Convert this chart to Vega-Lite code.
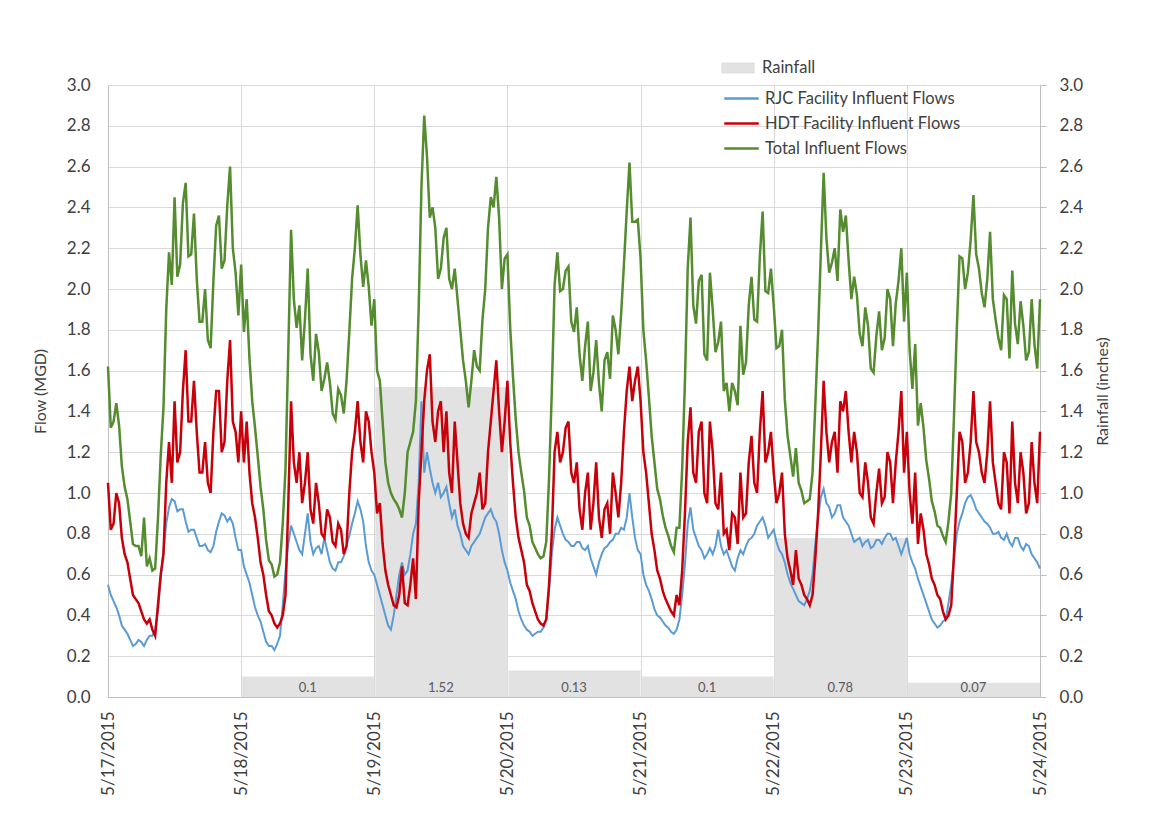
{
  "$schema": "https://vega.github.io/schema/vega-lite/v6.json",
  "width": 932,
  "height": 612,
  "autosize": {"type": "none"},
  "padding": {"left": 108, "top": 85, "right": 109, "bottom": 140},
  "background": "white",
  "config": {
    "font": "Lato",
    "view": {"stroke": null},
    "axis": {"labelFont": "Lato", "titleFont": "Lato", "labelColor": "#404040", "titleColor": "#404040", "titleFontWeight": "normal"},
    "legend": {"labelFont": "Lato", "labelColor": "#404040"}
  },
  "datasets": {
    "rain": [
      {"day": "2015-05-18T00:00", "rain": 0.1},
      {"day": "2015-05-19T00:00", "rain": 1.52},
      {"day": "2015-05-20T00:00", "rain": 0.13},
      {"day": "2015-05-21T00:00", "rain": 0.1},
      {"day": "2015-05-22T00:00", "rain": 0.78},
      {"day": "2015-05-23T00:00", "rain": 0.07}
    ],
    "flows": [
      {"t": "2015-05-17T00:00", "rjc": 0.55, "hdt": 1.05, "total": 1.62},
      {"t": "2015-05-17T00:30", "rjc": 0.50, "hdt": 0.82, "total": 1.32},
      {"t": "2015-05-17T01:00", "rjc": 0.47, "hdt": 0.85, "total": 1.35},
      {"t": "2015-05-17T01:30", "rjc": 0.44, "hdt": 1.00, "total": 1.44},
      {"t": "2015-05-17T02:00", "rjc": 0.40, "hdt": 0.95, "total": 1.33},
      {"t": "2015-05-17T02:30", "rjc": 0.35, "hdt": 0.78, "total": 1.13},
      {"t": "2015-05-17T03:00", "rjc": 0.33, "hdt": 0.70, "total": 1.03},
      {"t": "2015-05-17T03:30", "rjc": 0.31, "hdt": 0.66, "total": 0.97},
      {"t": "2015-05-17T04:00", "rjc": 0.28, "hdt": 0.58, "total": 0.86},
      {"t": "2015-05-17T04:30", "rjc": 0.25, "hdt": 0.50, "total": 0.75},
      {"t": "2015-05-17T05:00", "rjc": 0.26, "hdt": 0.48, "total": 0.74},
      {"t": "2015-05-17T05:30", "rjc": 0.28, "hdt": 0.46, "total": 0.74},
      {"t": "2015-05-17T06:00", "rjc": 0.27, "hdt": 0.42, "total": 0.69},
      {"t": "2015-05-17T06:30", "rjc": 0.25, "hdt": 0.38, "total": 0.88},
      {"t": "2015-05-17T07:00", "rjc": 0.28, "hdt": 0.36, "total": 0.64},
      {"t": "2015-05-17T07:30", "rjc": 0.30, "hdt": 0.38, "total": 0.68},
      {"t": "2015-05-17T08:00", "rjc": 0.30, "hdt": 0.33, "total": 0.62},
      {"t": "2015-05-17T08:30", "rjc": 0.33, "hdt": 0.30, "total": 0.63},
      {"t": "2015-05-17T09:00", "rjc": 0.42, "hdt": 0.45, "total": 0.87},
      {"t": "2015-05-17T09:30", "rjc": 0.58, "hdt": 0.60, "total": 1.18},
      {"t": "2015-05-17T10:00", "rjc": 0.72, "hdt": 0.70, "total": 1.42},
      {"t": "2015-05-17T10:30", "rjc": 0.85, "hdt": 1.05, "total": 1.90},
      {"t": "2015-05-17T11:00", "rjc": 0.93, "hdt": 1.25, "total": 2.18},
      {"t": "2015-05-17T11:30", "rjc": 0.97, "hdt": 1.05, "total": 2.02},
      {"t": "2015-05-17T12:00", "rjc": 0.96, "hdt": 1.45, "total": 2.45},
      {"t": "2015-05-17T12:30", "rjc": 0.91, "hdt": 1.15, "total": 2.06},
      {"t": "2015-05-17T13:00", "rjc": 0.92, "hdt": 1.20, "total": 2.12},
      {"t": "2015-05-17T13:30", "rjc": 0.92, "hdt": 1.50, "total": 2.42},
      {"t": "2015-05-17T14:00", "rjc": 0.86, "hdt": 1.70, "total": 2.52},
      {"t": "2015-05-17T14:30", "rjc": 0.81, "hdt": 1.35, "total": 2.16},
      {"t": "2015-05-17T15:00", "rjc": 0.82, "hdt": 1.35, "total": 2.17},
      {"t": "2015-05-17T15:30", "rjc": 0.82, "hdt": 1.55, "total": 2.37},
      {"t": "2015-05-17T16:00", "rjc": 0.78, "hdt": 1.30, "total": 2.05},
      {"t": "2015-05-17T16:30", "rjc": 0.74, "hdt": 1.10, "total": 1.84},
      {"t": "2015-05-17T17:00", "rjc": 0.74, "hdt": 1.10, "total": 1.84},
      {"t": "2015-05-17T17:30", "rjc": 0.75, "hdt": 1.25, "total": 2.00},
      {"t": "2015-05-17T18:00", "rjc": 0.72, "hdt": 1.05, "total": 1.75},
      {"t": "2015-05-17T18:30", "rjc": 0.71, "hdt": 1.00, "total": 1.71},
      {"t": "2015-05-17T19:00", "rjc": 0.74, "hdt": 1.30, "total": 2.04},
      {"t": "2015-05-17T19:30", "rjc": 0.81, "hdt": 1.50, "total": 2.31},
      {"t": "2015-05-17T20:00", "rjc": 0.86, "hdt": 1.50, "total": 2.36},
      {"t": "2015-05-17T20:30", "rjc": 0.90, "hdt": 1.20, "total": 2.10},
      {"t": "2015-05-17T21:00", "rjc": 0.89, "hdt": 1.25, "total": 2.14},
      {"t": "2015-05-17T21:30", "rjc": 0.86, "hdt": 1.55, "total": 2.41},
      {"t": "2015-05-17T22:00", "rjc": 0.88, "hdt": 1.75, "total": 2.60},
      {"t": "2015-05-17T22:30", "rjc": 0.85, "hdt": 1.35, "total": 2.20},
      {"t": "2015-05-17T23:00", "rjc": 0.78, "hdt": 1.30, "total": 2.08},
      {"t": "2015-05-17T23:30", "rjc": 0.72, "hdt": 1.15, "total": 1.87},
      {"t": "2015-05-18T00:00", "rjc": 0.72, "hdt": 1.40, "total": 2.12},
      {"t": "2015-05-18T00:30", "rjc": 0.64, "hdt": 1.15, "total": 1.79},
      {"t": "2015-05-18T01:00", "rjc": 0.60, "hdt": 1.35, "total": 1.95},
      {"t": "2015-05-18T01:30", "rjc": 0.56, "hdt": 1.10, "total": 1.66},
      {"t": "2015-05-18T02:00", "rjc": 0.50, "hdt": 0.95, "total": 1.45},
      {"t": "2015-05-18T02:30", "rjc": 0.44, "hdt": 0.88, "total": 1.32},
      {"t": "2015-05-18T03:00", "rjc": 0.40, "hdt": 0.78, "total": 1.18},
      {"t": "2015-05-18T03:30", "rjc": 0.37, "hdt": 0.66, "total": 1.03},
      {"t": "2015-05-18T04:00", "rjc": 0.32, "hdt": 0.60, "total": 0.92},
      {"t": "2015-05-18T04:30", "rjc": 0.27, "hdt": 0.50, "total": 0.77},
      {"t": "2015-05-18T05:00", "rjc": 0.25, "hdt": 0.42, "total": 0.67},
      {"t": "2015-05-18T05:30", "rjc": 0.25, "hdt": 0.40, "total": 0.65},
      {"t": "2015-05-18T06:00", "rjc": 0.23, "hdt": 0.36, "total": 0.59},
      {"t": "2015-05-18T06:30", "rjc": 0.26, "hdt": 0.34, "total": 0.60},
      {"t": "2015-05-18T07:00", "rjc": 0.30, "hdt": 0.36, "total": 0.66},
      {"t": "2015-05-18T07:30", "rjc": 0.45, "hdt": 0.40, "total": 0.85},
      {"t": "2015-05-18T08:00", "rjc": 0.62, "hdt": 0.50, "total": 1.12},
      {"t": "2015-05-18T08:30", "rjc": 0.75, "hdt": 0.95, "total": 1.70},
      {"t": "2015-05-18T09:00", "rjc": 0.84, "hdt": 1.45, "total": 2.29},
      {"t": "2015-05-18T09:30", "rjc": 0.80, "hdt": 1.15, "total": 1.95},
      {"t": "2015-05-18T10:00", "rjc": 0.76, "hdt": 1.05, "total": 1.81},
      {"t": "2015-05-18T10:30", "rjc": 0.72, "hdt": 1.20, "total": 1.92},
      {"t": "2015-05-18T11:00", "rjc": 0.70, "hdt": 0.95, "total": 1.65},
      {"t": "2015-05-18T11:30", "rjc": 0.80, "hdt": 1.05, "total": 1.85},
      {"t": "2015-05-18T12:00", "rjc": 0.90, "hdt": 1.20, "total": 2.10},
      {"t": "2015-05-18T12:30", "rjc": 0.76, "hdt": 0.92, "total": 1.68},
      {"t": "2015-05-18T13:00", "rjc": 0.70, "hdt": 0.85, "total": 1.55},
      {"t": "2015-05-18T13:30", "rjc": 0.73, "hdt": 1.05, "total": 1.78},
      {"t": "2015-05-18T14:00", "rjc": 0.74, "hdt": 0.95, "total": 1.69},
      {"t": "2015-05-18T14:30", "rjc": 0.70, "hdt": 0.80, "total": 1.50},
      {"t": "2015-05-18T15:00", "rjc": 0.78, "hdt": 0.78, "total": 1.56},
      {"t": "2015-05-18T15:30", "rjc": 0.72, "hdt": 0.92, "total": 1.64},
      {"t": "2015-05-18T16:00", "rjc": 0.66, "hdt": 0.88, "total": 1.54},
      {"t": "2015-05-18T16:30", "rjc": 0.63, "hdt": 0.76, "total": 1.39},
      {"t": "2015-05-18T17:00", "rjc": 0.62, "hdt": 0.74, "total": 1.36},
      {"t": "2015-05-18T17:30", "rjc": 0.66, "hdt": 0.85, "total": 1.51},
      {"t": "2015-05-18T18:00", "rjc": 0.66, "hdt": 0.82, "total": 1.48},
      {"t": "2015-05-18T18:30", "rjc": 0.69, "hdt": 0.70, "total": 1.39},
      {"t": "2015-05-18T19:00", "rjc": 0.74, "hdt": 0.74, "total": 1.55},
      {"t": "2015-05-18T19:30", "rjc": 0.79, "hdt": 1.00, "total": 1.79},
      {"t": "2015-05-18T20:00", "rjc": 0.85, "hdt": 1.20, "total": 2.05},
      {"t": "2015-05-18T20:30", "rjc": 0.90, "hdt": 1.30, "total": 2.20},
      {"t": "2015-05-18T21:00", "rjc": 0.96, "hdt": 1.45, "total": 2.41},
      {"t": "2015-05-18T21:30", "rjc": 0.92, "hdt": 1.25, "total": 2.17},
      {"t": "2015-05-18T22:00", "rjc": 0.86, "hdt": 1.15, "total": 2.01},
      {"t": "2015-05-18T22:30", "rjc": 0.74, "hdt": 1.40, "total": 2.14},
      {"t": "2015-05-18T23:00", "rjc": 0.66, "hdt": 1.35, "total": 2.01},
      {"t": "2015-05-18T23:30", "rjc": 0.62, "hdt": 1.20, "total": 1.82},
      {"t": "2015-05-19T00:00", "rjc": 0.60, "hdt": 1.10, "total": 1.95},
      {"t": "2015-05-19T00:30", "rjc": 0.55, "hdt": 0.90, "total": 1.60},
      {"t": "2015-05-19T01:00", "rjc": 0.50, "hdt": 0.95, "total": 1.55},
      {"t": "2015-05-19T01:30", "rjc": 0.45, "hdt": 0.75, "total": 1.35},
      {"t": "2015-05-19T02:00", "rjc": 0.40, "hdt": 0.62, "total": 1.15},
      {"t": "2015-05-19T02:30", "rjc": 0.35, "hdt": 0.55, "total": 1.05},
      {"t": "2015-05-19T03:00", "rjc": 0.33, "hdt": 0.50, "total": 1.00},
      {"t": "2015-05-19T03:30", "rjc": 0.40, "hdt": 0.45, "total": 0.97},
      {"t": "2015-05-19T04:00", "rjc": 0.50, "hdt": 0.44, "total": 0.95},
      {"t": "2015-05-19T04:30", "rjc": 0.60, "hdt": 0.50, "total": 0.92},
      {"t": "2015-05-19T05:00", "rjc": 0.66, "hdt": 0.64, "total": 0.88},
      {"t": "2015-05-19T05:30", "rjc": 0.60, "hdt": 0.46, "total": 1.00},
      {"t": "2015-05-19T06:00", "rjc": 0.62, "hdt": 0.45, "total": 1.20},
      {"t": "2015-05-19T06:30", "rjc": 0.70, "hdt": 0.55, "total": 1.25},
      {"t": "2015-05-19T07:00", "rjc": 0.80, "hdt": 0.68, "total": 1.30},
      {"t": "2015-05-19T07:30", "rjc": 0.85, "hdt": 0.48, "total": 1.45},
      {"t": "2015-05-19T08:00", "rjc": 1.05, "hdt": 0.95, "total": 1.90},
      {"t": "2015-05-19T08:30", "rjc": 1.45, "hdt": 1.20, "total": 2.50},
      {"t": "2015-05-19T09:00", "rjc": 1.10, "hdt": 1.45, "total": 2.85},
      {"t": "2015-05-19T09:30", "rjc": 1.20, "hdt": 1.60, "total": 2.65},
      {"t": "2015-05-19T10:00", "rjc": 1.12, "hdt": 1.68, "total": 2.35},
      {"t": "2015-05-19T10:30", "rjc": 1.05, "hdt": 1.35, "total": 2.40},
      {"t": "2015-05-19T11:00", "rjc": 1.00, "hdt": 1.25, "total": 2.30},
      {"t": "2015-05-19T11:30", "rjc": 1.05, "hdt": 1.40, "total": 2.05},
      {"t": "2015-05-19T12:00", "rjc": 0.98, "hdt": 1.45, "total": 2.10},
      {"t": "2015-05-19T12:30", "rjc": 1.00, "hdt": 1.20, "total": 2.25},
      {"t": "2015-05-19T13:00", "rjc": 1.03, "hdt": 1.40, "total": 2.30},
      {"t": "2015-05-19T13:30", "rjc": 0.95, "hdt": 1.10, "total": 2.05},
      {"t": "2015-05-19T14:00", "rjc": 0.88, "hdt": 1.00, "total": 2.00},
      {"t": "2015-05-19T14:30", "rjc": 0.92, "hdt": 1.35, "total": 2.10},
      {"t": "2015-05-19T15:00", "rjc": 0.84, "hdt": 1.15, "total": 1.95},
      {"t": "2015-05-19T15:30", "rjc": 0.80, "hdt": 0.95, "total": 1.80},
      {"t": "2015-05-19T16:00", "rjc": 0.74, "hdt": 0.85, "total": 1.65},
      {"t": "2015-05-19T16:30", "rjc": 0.72, "hdt": 0.80, "total": 1.55},
      {"t": "2015-05-19T17:00", "rjc": 0.70, "hdt": 0.78, "total": 1.42},
      {"t": "2015-05-19T17:30", "rjc": 0.74, "hdt": 0.90, "total": 1.55},
      {"t": "2015-05-19T18:00", "rjc": 0.76, "hdt": 0.95, "total": 1.70},
      {"t": "2015-05-19T18:30", "rjc": 0.78, "hdt": 1.00, "total": 1.62},
      {"t": "2015-05-19T19:00", "rjc": 0.80, "hdt": 1.10, "total": 1.60},
      {"t": "2015-05-19T19:30", "rjc": 0.84, "hdt": 0.92, "total": 1.85},
      {"t": "2015-05-19T20:00", "rjc": 0.88, "hdt": 0.95, "total": 2.00},
      {"t": "2015-05-19T20:30", "rjc": 0.90, "hdt": 1.20, "total": 2.30},
      {"t": "2015-05-19T21:00", "rjc": 0.92, "hdt": 1.35, "total": 2.45},
      {"t": "2015-05-19T21:30", "rjc": 0.88, "hdt": 1.50, "total": 2.40},
      {"t": "2015-05-19T22:00", "rjc": 0.86, "hdt": 1.65, "total": 2.55},
      {"t": "2015-05-19T22:30", "rjc": 0.80, "hdt": 1.40, "total": 2.35},
      {"t": "2015-05-19T23:00", "rjc": 0.72, "hdt": 1.20, "total": 2.00},
      {"t": "2015-05-19T23:30", "rjc": 0.66, "hdt": 1.35, "total": 2.15},
      {"t": "2015-05-20T00:00", "rjc": 0.62, "hdt": 1.55, "total": 2.17},
      {"t": "2015-05-20T00:30", "rjc": 0.56, "hdt": 1.25, "total": 1.81},
      {"t": "2015-05-20T01:00", "rjc": 0.52, "hdt": 1.05, "total": 1.57},
      {"t": "2015-05-20T01:30", "rjc": 0.48, "hdt": 0.88, "total": 1.36},
      {"t": "2015-05-20T02:00", "rjc": 0.42, "hdt": 0.78, "total": 1.20},
      {"t": "2015-05-20T02:30", "rjc": 0.38, "hdt": 0.72, "total": 1.10},
      {"t": "2015-05-20T03:00", "rjc": 0.35, "hdt": 0.66, "total": 1.01},
      {"t": "2015-05-20T03:30", "rjc": 0.33, "hdt": 0.55, "total": 0.88},
      {"t": "2015-05-20T04:00", "rjc": 0.32, "hdt": 0.52, "total": 0.84},
      {"t": "2015-05-20T04:30", "rjc": 0.30, "hdt": 0.46, "total": 0.76},
      {"t": "2015-05-20T05:00", "rjc": 0.31, "hdt": 0.42, "total": 0.73},
      {"t": "2015-05-20T05:30", "rjc": 0.32, "hdt": 0.38, "total": 0.70},
      {"t": "2015-05-20T06:00", "rjc": 0.32, "hdt": 0.36, "total": 0.68},
      {"t": "2015-05-20T06:30", "rjc": 0.34, "hdt": 0.35, "total": 0.69},
      {"t": "2015-05-20T07:00", "rjc": 0.38, "hdt": 0.38, "total": 0.76},
      {"t": "2015-05-20T07:30", "rjc": 0.52, "hdt": 0.55, "total": 1.07},
      {"t": "2015-05-20T08:00", "rjc": 0.70, "hdt": 0.80, "total": 1.50},
      {"t": "2015-05-20T08:30", "rjc": 0.82, "hdt": 1.20, "total": 2.02},
      {"t": "2015-05-20T09:00", "rjc": 0.88, "hdt": 1.30, "total": 2.18},
      {"t": "2015-05-20T09:30", "rjc": 0.84, "hdt": 1.15, "total": 1.99},
      {"t": "2015-05-20T10:00", "rjc": 0.80, "hdt": 1.20, "total": 2.00},
      {"t": "2015-05-20T10:30", "rjc": 0.77, "hdt": 1.32, "total": 2.09},
      {"t": "2015-05-20T11:00", "rjc": 0.76, "hdt": 1.35, "total": 2.11},
      {"t": "2015-05-20T11:30", "rjc": 0.74, "hdt": 1.10, "total": 1.84},
      {"t": "2015-05-20T12:00", "rjc": 0.74, "hdt": 1.05, "total": 1.79},
      {"t": "2015-05-20T12:30", "rjc": 0.76, "hdt": 1.15, "total": 1.91},
      {"t": "2015-05-20T13:00", "rjc": 0.76, "hdt": 0.92, "total": 1.68},
      {"t": "2015-05-20T13:30", "rjc": 0.73, "hdt": 0.82, "total": 1.55},
      {"t": "2015-05-20T14:00", "rjc": 0.72, "hdt": 1.00, "total": 1.72},
      {"t": "2015-05-20T14:30", "rjc": 0.74, "hdt": 1.10, "total": 1.84},
      {"t": "2015-05-20T15:00", "rjc": 0.68, "hdt": 0.82, "total": 1.50},
      {"t": "2015-05-20T15:30", "rjc": 0.64, "hdt": 0.95, "total": 1.59},
      {"t": "2015-05-20T16:00", "rjc": 0.60, "hdt": 1.15, "total": 1.75},
      {"t": "2015-05-20T16:30", "rjc": 0.66, "hdt": 0.88, "total": 1.54},
      {"t": "2015-05-20T17:00", "rjc": 0.70, "hdt": 0.78, "total": 1.40},
      {"t": "2015-05-20T17:30", "rjc": 0.73, "hdt": 0.92, "total": 1.65},
      {"t": "2015-05-20T18:00", "rjc": 0.74, "hdt": 0.95, "total": 1.69},
      {"t": "2015-05-20T18:30", "rjc": 0.76, "hdt": 0.80, "total": 1.56},
      {"t": "2015-05-20T19:00", "rjc": 0.77, "hdt": 1.10, "total": 1.87},
      {"t": "2015-05-20T19:30", "rjc": 0.80, "hdt": 1.00, "total": 1.80},
      {"t": "2015-05-20T20:00", "rjc": 0.80, "hdt": 0.88, "total": 1.68},
      {"t": "2015-05-20T20:30", "rjc": 0.83, "hdt": 1.05, "total": 1.88},
      {"t": "2015-05-20T21:00", "rjc": 0.82, "hdt": 1.30, "total": 2.12},
      {"t": "2015-05-20T21:30", "rjc": 0.88, "hdt": 1.50, "total": 2.38},
      {"t": "2015-05-20T22:00", "rjc": 1.00, "hdt": 1.62, "total": 2.62},
      {"t": "2015-05-20T22:30", "rjc": 0.88, "hdt": 1.45, "total": 2.33},
      {"t": "2015-05-20T23:00", "rjc": 0.78, "hdt": 1.55, "total": 2.33},
      {"t": "2015-05-20T23:30", "rjc": 0.72, "hdt": 1.62, "total": 2.34},
      {"t": "2015-05-21T00:00", "rjc": 0.70, "hdt": 1.45, "total": 2.15},
      {"t": "2015-05-21T00:30", "rjc": 0.60, "hdt": 1.20, "total": 1.80},
      {"t": "2015-05-21T01:00", "rjc": 0.55, "hdt": 1.10, "total": 1.65},
      {"t": "2015-05-21T01:30", "rjc": 0.52, "hdt": 0.95, "total": 1.47},
      {"t": "2015-05-21T02:00", "rjc": 0.48, "hdt": 0.80, "total": 1.28},
      {"t": "2015-05-21T02:30", "rjc": 0.43, "hdt": 0.72, "total": 1.15},
      {"t": "2015-05-21T03:00", "rjc": 0.40, "hdt": 0.62, "total": 1.02},
      {"t": "2015-05-21T03:30", "rjc": 0.39, "hdt": 0.58, "total": 0.97},
      {"t": "2015-05-21T04:00", "rjc": 0.37, "hdt": 0.52, "total": 0.89},
      {"t": "2015-05-21T04:30", "rjc": 0.35, "hdt": 0.48, "total": 0.83},
      {"t": "2015-05-21T05:00", "rjc": 0.34, "hdt": 0.45, "total": 0.79},
      {"t": "2015-05-21T05:30", "rjc": 0.32, "hdt": 0.42, "total": 0.74},
      {"t": "2015-05-21T06:00", "rjc": 0.31, "hdt": 0.40, "total": 0.71},
      {"t": "2015-05-21T06:30", "rjc": 0.33, "hdt": 0.50, "total": 0.83},
      {"t": "2015-05-21T07:00", "rjc": 0.38, "hdt": 0.45, "total": 0.83},
      {"t": "2015-05-21T07:30", "rjc": 0.50, "hdt": 0.62, "total": 1.12},
      {"t": "2015-05-21T08:00", "rjc": 0.65, "hdt": 0.90, "total": 1.55},
      {"t": "2015-05-21T08:30", "rjc": 0.85, "hdt": 1.25, "total": 2.10},
      {"t": "2015-05-21T09:00", "rjc": 0.93, "hdt": 1.42, "total": 2.35},
      {"t": "2015-05-21T09:30", "rjc": 0.82, "hdt": 1.10, "total": 1.92},
      {"t": "2015-05-21T10:00", "rjc": 0.78, "hdt": 1.05, "total": 1.83},
      {"t": "2015-05-21T10:30", "rjc": 0.74, "hdt": 1.30, "total": 2.04},
      {"t": "2015-05-21T11:00", "rjc": 0.72, "hdt": 1.35, "total": 2.07},
      {"t": "2015-05-21T11:30", "rjc": 0.68, "hdt": 1.00, "total": 1.68},
      {"t": "2015-05-21T12:00", "rjc": 0.70, "hdt": 0.95, "total": 1.65},
      {"t": "2015-05-21T12:30", "rjc": 0.73, "hdt": 1.35, "total": 2.08},
      {"t": "2015-05-21T13:00", "rjc": 0.70, "hdt": 1.20, "total": 1.90},
      {"t": "2015-05-21T13:30", "rjc": 0.74, "hdt": 0.95, "total": 1.69},
      {"t": "2015-05-21T14:00", "rjc": 0.82, "hdt": 0.92, "total": 1.74},
      {"t": "2015-05-21T14:30", "rjc": 0.74, "hdt": 1.10, "total": 1.84},
      {"t": "2015-05-21T15:00", "rjc": 0.70, "hdt": 0.80, "total": 1.50},
      {"t": "2015-05-21T15:30", "rjc": 0.72, "hdt": 0.82, "total": 1.54},
      {"t": "2015-05-21T16:00", "rjc": 0.68, "hdt": 0.72, "total": 1.40},
      {"t": "2015-05-21T16:30", "rjc": 0.64, "hdt": 0.90, "total": 1.54},
      {"t": "2015-05-21T17:00", "rjc": 0.62, "hdt": 0.88, "total": 1.50},
      {"t": "2015-05-21T17:30", "rjc": 0.68, "hdt": 0.75, "total": 1.43},
      {"t": "2015-05-21T18:00", "rjc": 0.72, "hdt": 1.10, "total": 1.82},
      {"t": "2015-05-21T18:30", "rjc": 0.70, "hdt": 0.88, "total": 1.58},
      {"t": "2015-05-21T19:00", "rjc": 0.74, "hdt": 0.90, "total": 1.64},
      {"t": "2015-05-21T19:30", "rjc": 0.77, "hdt": 1.15, "total": 1.92},
      {"t": "2015-05-21T20:00", "rjc": 0.78, "hdt": 1.28, "total": 2.06},
      {"t": "2015-05-21T20:30", "rjc": 0.80, "hdt": 1.05, "total": 1.85},
      {"t": "2015-05-21T21:00", "rjc": 0.84, "hdt": 1.00, "total": 1.84},
      {"t": "2015-05-21T21:30", "rjc": 0.86, "hdt": 1.30, "total": 2.16},
      {"t": "2015-05-21T22:00", "rjc": 0.88, "hdt": 1.50, "total": 2.38},
      {"t": "2015-05-21T22:30", "rjc": 0.84, "hdt": 1.15, "total": 1.99},
      {"t": "2015-05-21T23:00", "rjc": 0.78, "hdt": 1.20, "total": 1.98},
      {"t": "2015-05-21T23:30", "rjc": 0.80, "hdt": 1.30, "total": 2.10},
      {"t": "2015-05-22T00:00", "rjc": 0.82, "hdt": 1.10, "total": 1.92},
      {"t": "2015-05-22T00:30", "rjc": 0.76, "hdt": 0.95, "total": 1.71},
      {"t": "2015-05-22T01:00", "rjc": 0.72, "hdt": 1.00, "total": 1.72},
      {"t": "2015-05-22T01:30", "rjc": 0.70, "hdt": 1.10, "total": 1.80},
      {"t": "2015-05-22T02:00", "rjc": 0.66, "hdt": 0.80, "total": 1.46},
      {"t": "2015-05-22T02:30", "rjc": 0.60, "hdt": 0.68, "total": 1.28},
      {"t": "2015-05-22T03:00", "rjc": 0.56, "hdt": 0.62, "total": 1.18},
      {"t": "2015-05-22T03:30", "rjc": 0.53, "hdt": 0.55, "total": 1.08},
      {"t": "2015-05-22T04:00", "rjc": 0.50, "hdt": 0.72, "total": 1.22},
      {"t": "2015-05-22T04:30", "rjc": 0.47, "hdt": 0.58, "total": 1.05},
      {"t": "2015-05-22T05:00", "rjc": 0.46, "hdt": 0.55, "total": 1.01},
      {"t": "2015-05-22T05:30", "rjc": 0.45, "hdt": 0.50, "total": 0.95},
      {"t": "2015-05-22T06:00", "rjc": 0.48, "hdt": 0.48, "total": 0.96},
      {"t": "2015-05-22T06:30", "rjc": 0.52, "hdt": 0.45, "total": 0.97},
      {"t": "2015-05-22T07:00", "rjc": 0.60, "hdt": 0.50, "total": 1.10},
      {"t": "2015-05-22T07:30", "rjc": 0.75, "hdt": 0.68, "total": 1.43},
      {"t": "2015-05-22T08:00", "rjc": 0.88, "hdt": 0.90, "total": 1.78},
      {"t": "2015-05-22T08:30", "rjc": 0.98, "hdt": 1.20, "total": 2.18},
      {"t": "2015-05-22T09:00", "rjc": 1.02, "hdt": 1.55, "total": 2.57},
      {"t": "2015-05-22T09:30", "rjc": 0.95, "hdt": 1.30, "total": 2.25},
      {"t": "2015-05-22T10:00", "rjc": 0.93, "hdt": 1.15, "total": 2.08},
      {"t": "2015-05-22T10:30", "rjc": 0.88, "hdt": 1.25, "total": 2.13},
      {"t": "2015-05-22T11:00", "rjc": 0.90, "hdt": 1.30, "total": 2.20},
      {"t": "2015-05-22T11:30", "rjc": 0.94, "hdt": 1.10, "total": 2.04},
      {"t": "2015-05-22T12:00", "rjc": 0.94, "hdt": 1.45, "total": 2.39},
      {"t": "2015-05-22T12:30", "rjc": 0.88, "hdt": 1.40, "total": 2.28},
      {"t": "2015-05-22T13:00", "rjc": 0.86, "hdt": 1.50, "total": 2.36},
      {"t": "2015-05-22T13:30", "rjc": 0.84, "hdt": 1.30, "total": 2.14},
      {"t": "2015-05-22T14:00", "rjc": 0.80, "hdt": 1.15, "total": 1.95},
      {"t": "2015-05-22T14:30", "rjc": 0.76, "hdt": 1.30, "total": 2.06},
      {"t": "2015-05-22T15:00", "rjc": 0.77, "hdt": 1.20, "total": 1.97},
      {"t": "2015-05-22T15:30", "rjc": 0.78, "hdt": 1.00, "total": 1.78},
      {"t": "2015-05-22T16:00", "rjc": 0.74, "hdt": 0.98, "total": 1.72},
      {"t": "2015-05-22T16:30", "rjc": 0.76, "hdt": 1.15, "total": 1.91},
      {"t": "2015-05-22T17:00", "rjc": 0.77, "hdt": 1.05, "total": 1.82},
      {"t": "2015-05-22T17:30", "rjc": 0.73, "hdt": 0.88, "total": 1.61},
      {"t": "2015-05-22T18:00", "rjc": 0.74, "hdt": 0.85, "total": 1.59},
      {"t": "2015-05-22T18:30", "rjc": 0.77, "hdt": 1.00, "total": 1.77},
      {"t": "2015-05-22T19:00", "rjc": 0.77, "hdt": 1.12, "total": 1.89},
      {"t": "2015-05-22T19:30", "rjc": 0.75, "hdt": 0.95, "total": 1.70},
      {"t": "2015-05-22T20:00", "rjc": 0.78, "hdt": 0.98, "total": 1.76},
      {"t": "2015-05-22T20:30", "rjc": 0.80, "hdt": 1.20, "total": 2.00},
      {"t": "2015-05-22T21:00", "rjc": 0.80, "hdt": 1.15, "total": 1.95},
      {"t": "2015-05-22T21:30", "rjc": 0.77, "hdt": 0.95, "total": 1.72},
      {"t": "2015-05-22T22:00", "rjc": 0.78, "hdt": 1.15, "total": 1.93},
      {"t": "2015-05-22T22:30", "rjc": 0.74, "hdt": 1.30, "total": 2.04},
      {"t": "2015-05-22T23:00", "rjc": 0.70, "hdt": 1.50, "total": 2.20},
      {"t": "2015-05-22T23:30", "rjc": 0.74, "hdt": 1.10, "total": 1.84},
      {"t": "2015-05-23T00:00", "rjc": 0.78, "hdt": 1.30, "total": 2.08},
      {"t": "2015-05-23T00:30", "rjc": 0.70, "hdt": 1.00, "total": 1.70},
      {"t": "2015-05-23T01:00", "rjc": 0.66, "hdt": 0.85, "total": 1.51},
      {"t": "2015-05-23T01:30", "rjc": 0.63, "hdt": 1.10, "total": 1.73},
      {"t": "2015-05-23T02:00", "rjc": 0.58, "hdt": 0.75, "total": 1.33},
      {"t": "2015-05-23T02:30", "rjc": 0.54, "hdt": 0.90, "total": 1.44},
      {"t": "2015-05-23T03:00", "rjc": 0.50, "hdt": 0.82, "total": 1.32},
      {"t": "2015-05-23T03:30", "rjc": 0.46, "hdt": 0.70, "total": 1.16},
      {"t": "2015-05-23T04:00", "rjc": 0.42, "hdt": 0.65, "total": 1.07},
      {"t": "2015-05-23T04:30", "rjc": 0.38, "hdt": 0.58, "total": 0.96},
      {"t": "2015-05-23T05:00", "rjc": 0.36, "hdt": 0.55, "total": 0.91},
      {"t": "2015-05-23T05:30", "rjc": 0.34, "hdt": 0.50, "total": 0.84},
      {"t": "2015-05-23T06:00", "rjc": 0.35, "hdt": 0.48, "total": 0.83},
      {"t": "2015-05-23T06:30", "rjc": 0.37, "hdt": 0.42, "total": 0.79},
      {"t": "2015-05-23T07:00", "rjc": 0.38, "hdt": 0.38, "total": 0.76},
      {"t": "2015-05-23T07:30", "rjc": 0.46, "hdt": 0.40, "total": 0.86},
      {"t": "2015-05-23T08:00", "rjc": 0.55, "hdt": 0.45, "total": 1.00},
      {"t": "2015-05-23T08:30", "rjc": 0.68, "hdt": 0.70, "total": 1.38},
      {"t": "2015-05-23T09:00", "rjc": 0.80, "hdt": 1.00, "total": 1.80},
      {"t": "2015-05-23T09:30", "rjc": 0.86, "hdt": 1.30, "total": 2.16},
      {"t": "2015-05-23T10:00", "rjc": 0.90, "hdt": 1.25, "total": 2.15},
      {"t": "2015-05-23T10:30", "rjc": 0.95, "hdt": 1.05, "total": 2.00},
      {"t": "2015-05-23T11:00", "rjc": 0.98, "hdt": 1.10, "total": 2.08},
      {"t": "2015-05-23T11:30", "rjc": 0.99, "hdt": 1.25, "total": 2.24},
      {"t": "2015-05-23T12:00", "rjc": 0.96, "hdt": 1.50, "total": 2.46},
      {"t": "2015-05-23T12:30", "rjc": 0.92, "hdt": 1.25, "total": 2.17},
      {"t": "2015-05-23T13:00", "rjc": 0.90, "hdt": 1.20, "total": 2.10},
      {"t": "2015-05-23T13:30", "rjc": 0.88, "hdt": 1.10, "total": 1.98},
      {"t": "2015-05-23T14:00", "rjc": 0.86, "hdt": 1.05, "total": 1.91},
      {"t": "2015-05-23T14:30", "rjc": 0.85, "hdt": 1.20, "total": 2.05},
      {"t": "2015-05-23T15:00", "rjc": 0.83, "hdt": 1.45, "total": 2.28},
      {"t": "2015-05-23T15:30", "rjc": 0.80, "hdt": 1.15, "total": 1.95},
      {"t": "2015-05-23T16:00", "rjc": 0.80, "hdt": 1.05, "total": 1.85},
      {"t": "2015-05-23T16:30", "rjc": 0.81, "hdt": 0.95, "total": 1.76},
      {"t": "2015-05-23T17:00", "rjc": 0.78, "hdt": 0.92, "total": 1.70},
      {"t": "2015-05-23T17:30", "rjc": 0.77, "hdt": 1.20, "total": 1.97},
      {"t": "2015-05-23T18:00", "rjc": 0.80, "hdt": 1.15, "total": 1.95},
      {"t": "2015-05-23T18:30", "rjc": 0.76, "hdt": 0.90, "total": 1.66},
      {"t": "2015-05-23T19:00", "rjc": 0.74, "hdt": 1.35, "total": 2.09},
      {"t": "2015-05-23T19:30", "rjc": 0.78, "hdt": 1.05, "total": 1.83},
      {"t": "2015-05-23T20:00", "rjc": 0.78, "hdt": 0.95, "total": 1.73},
      {"t": "2015-05-23T20:30", "rjc": 0.74, "hdt": 1.20, "total": 1.94},
      {"t": "2015-05-23T21:00", "rjc": 0.72, "hdt": 1.10, "total": 1.82},
      {"t": "2015-05-23T21:30", "rjc": 0.75, "hdt": 0.90, "total": 1.65},
      {"t": "2015-05-23T22:00", "rjc": 0.74, "hdt": 0.95, "total": 1.69},
      {"t": "2015-05-23T22:30", "rjc": 0.70, "hdt": 1.25, "total": 1.95},
      {"t": "2015-05-23T23:00", "rjc": 0.68, "hdt": 1.05, "total": 1.73},
      {"t": "2015-05-23T23:30", "rjc": 0.66, "hdt": 0.95, "total": 1.61},
      {"t": "2015-05-24T00:00", "rjc": 0.63, "hdt": 1.30, "total": 1.95}
    ]
  },
  "layer": [
    {
      "data": {"name": "rain"},
      "layer": [
        {
          "mark": {"type": "bar", "cornerRadius": 0},
          "encoding": {
            "x": {
              "field": "day", "timeUnit": "yearmonthdate", "type": "temporal",
              "scale": {"domain": [{"year": 2015, "month": 5, "date": 17}, {"year": 2015, "month": 5, "date": 24}]},
              "axis": {
                "title": null,
                "values": [
                  {"year": 2015, "month": 5, "date": 17}, {"year": 2015, "month": 5, "date": 18},
                  {"year": 2015, "month": 5, "date": 19}, {"year": 2015, "month": 5, "date": 20},
                  {"year": 2015, "month": 5, "date": 21}, {"year": 2015, "month": 5, "date": 22},
                  {"year": 2015, "month": 5, "date": 23}, {"year": 2015, "month": 5, "date": 24}
                ],
                "format": "%-m/%-d/%Y",
                "labelAngle": -90,
                "labelFontSize": 17,
                "labelPadding": 14,
                "labelBound": false,
                "labelOverlap": false,
                "labelFlush": false,
                "ticks": false,
                "grid": true,
                "gridColor": "#d9d9d9",
                "gridWidth": 1,
                "domainColor": "#bfbfbf"
              }
            },
            "y": {
              "field": "rain", "type": "quantitative",
              "scale": {"domain": [0, 3], "nice": false},
              "axis": {
                "orient": "right",
                "title": "Rainfall (inches)",
                "titleFontSize": 16,
                "titleAngle": 270,
                "titleBaseline": "top",
                "titlePadding": 12,
                "values": [0, 0.2, 0.4, 0.6, 0.8, 1.0, 1.2, 1.4, 1.6, 1.8, 2.0, 2.2, 2.4, 2.6, 2.8, 3.0],
                "format": ".1f",
                "labelFontSize": 17,
                "labelPadding": 13,
                "grid": false,
                "domainColor": "#bfbfbf",
                "tickColor": "#bfbfbf",
                "tickSize": 6
              }
            },
            "fill": {
              "datum": "Rainfall", "type": "nominal",
              "scale": {"range": ["#e2e2e2"]},
              "legend": {
                "title": null,
                "orient": "none",
                "legendX": 618,
                "legendY": -29,
                "direction": "vertical",
                "symbolType": "M-1.4,-0.45H1.4V0.45H-1.4Z",
                "symbolSize": 576,
                "symbolStrokeWidth": 0,
                "labelFontSize": 16.5,
                "labelLimit": 400,
                "labelOffset": 12
              }
            }
          }
        },
        {
          "mark": {"type": "text", "fontSize": 13, "color": "#595959", "baseline": "middle"},
          "encoding": {
            "x": {"field": "day", "timeUnit": "yearmonthdate", "type": "temporal", "bandPosition": 0.5},
            "y": {"datum": 0.045},
            "text": {"field": "rain", "type": "quantitative"}
          }
        }
      ]
    },
    {
      "data": {"name": "flows"},
      "layer": [
        {
          "mark": {"type": "line", "strokeWidth": 2, "interpolate": "linear"},
          "encoding": {
            "x": {"field": "t", "type": "temporal"},
            "y": {
              "field": "rjc", "type": "quantitative",
              "scale": {"domain": [0, 3], "nice": false},
              "axis": {
                "orient": "left",
                "title": "Flow (MGD)",
                "titleFontSize": 16,
                "titlePadding": 18,
                "values": [0, 0.2, 0.4, 0.6, 0.8, 1.0, 1.2, 1.4, 1.6, 1.8, 2.0, 2.2, 2.4, 2.6, 2.8, 3.0],
                "format": ".1f",
                "labelFontSize": 17,
                "labelPadding": 18,
                "ticks": false,
                "grid": true,
                "gridColor": "#d9d9d9",
                "gridWidth": 1,
                "domainColor": "#bfbfbf"
              }
            },
            "stroke": {
              "datum": "RJC Facility Influent Flows", "type": "nominal",
              "scale": {
                "domain": ["RJC Facility Influent Flows", "HDT Facility Influent Flows", "Total Influent Flows"],
                "range": ["#5b9bd5", "#c8000a", "#548c2f"]
              },
              "legend": {
                "title": null,
                "orient": "none",
                "legendX": 617,
                "legendY": -3,
                "direction": "vertical",
                "symbolType": "M-1.15,0H1.15",
                "symbolSize": 900,
                "symbolStrokeWidth": 2.5,
                "labelFontSize": 16.5,
                "labelLimit": 400,
                "labelOffset": 7,
                "rowPadding": 0
              }
            }
          }
        },
        {
          "mark": {"type": "line", "strokeWidth": 2.5},
          "encoding": {
            "x": {"field": "t", "type": "temporal"},
            "y": {"field": "hdt", "type": "quantitative"},
            "stroke": {"datum": "HDT Facility Influent Flows", "type": "nominal"}
          }
        },
        {
          "mark": {"type": "line", "strokeWidth": 2.5},
          "encoding": {
            "x": {"field": "t", "type": "temporal"},
            "y": {"field": "total", "type": "quantitative"},
            "stroke": {"datum": "Total Influent Flows", "type": "nominal"}
          }
        }
      ]
    }
  ],
  "resolve": {"scale": {"y": "independent"}}
}
